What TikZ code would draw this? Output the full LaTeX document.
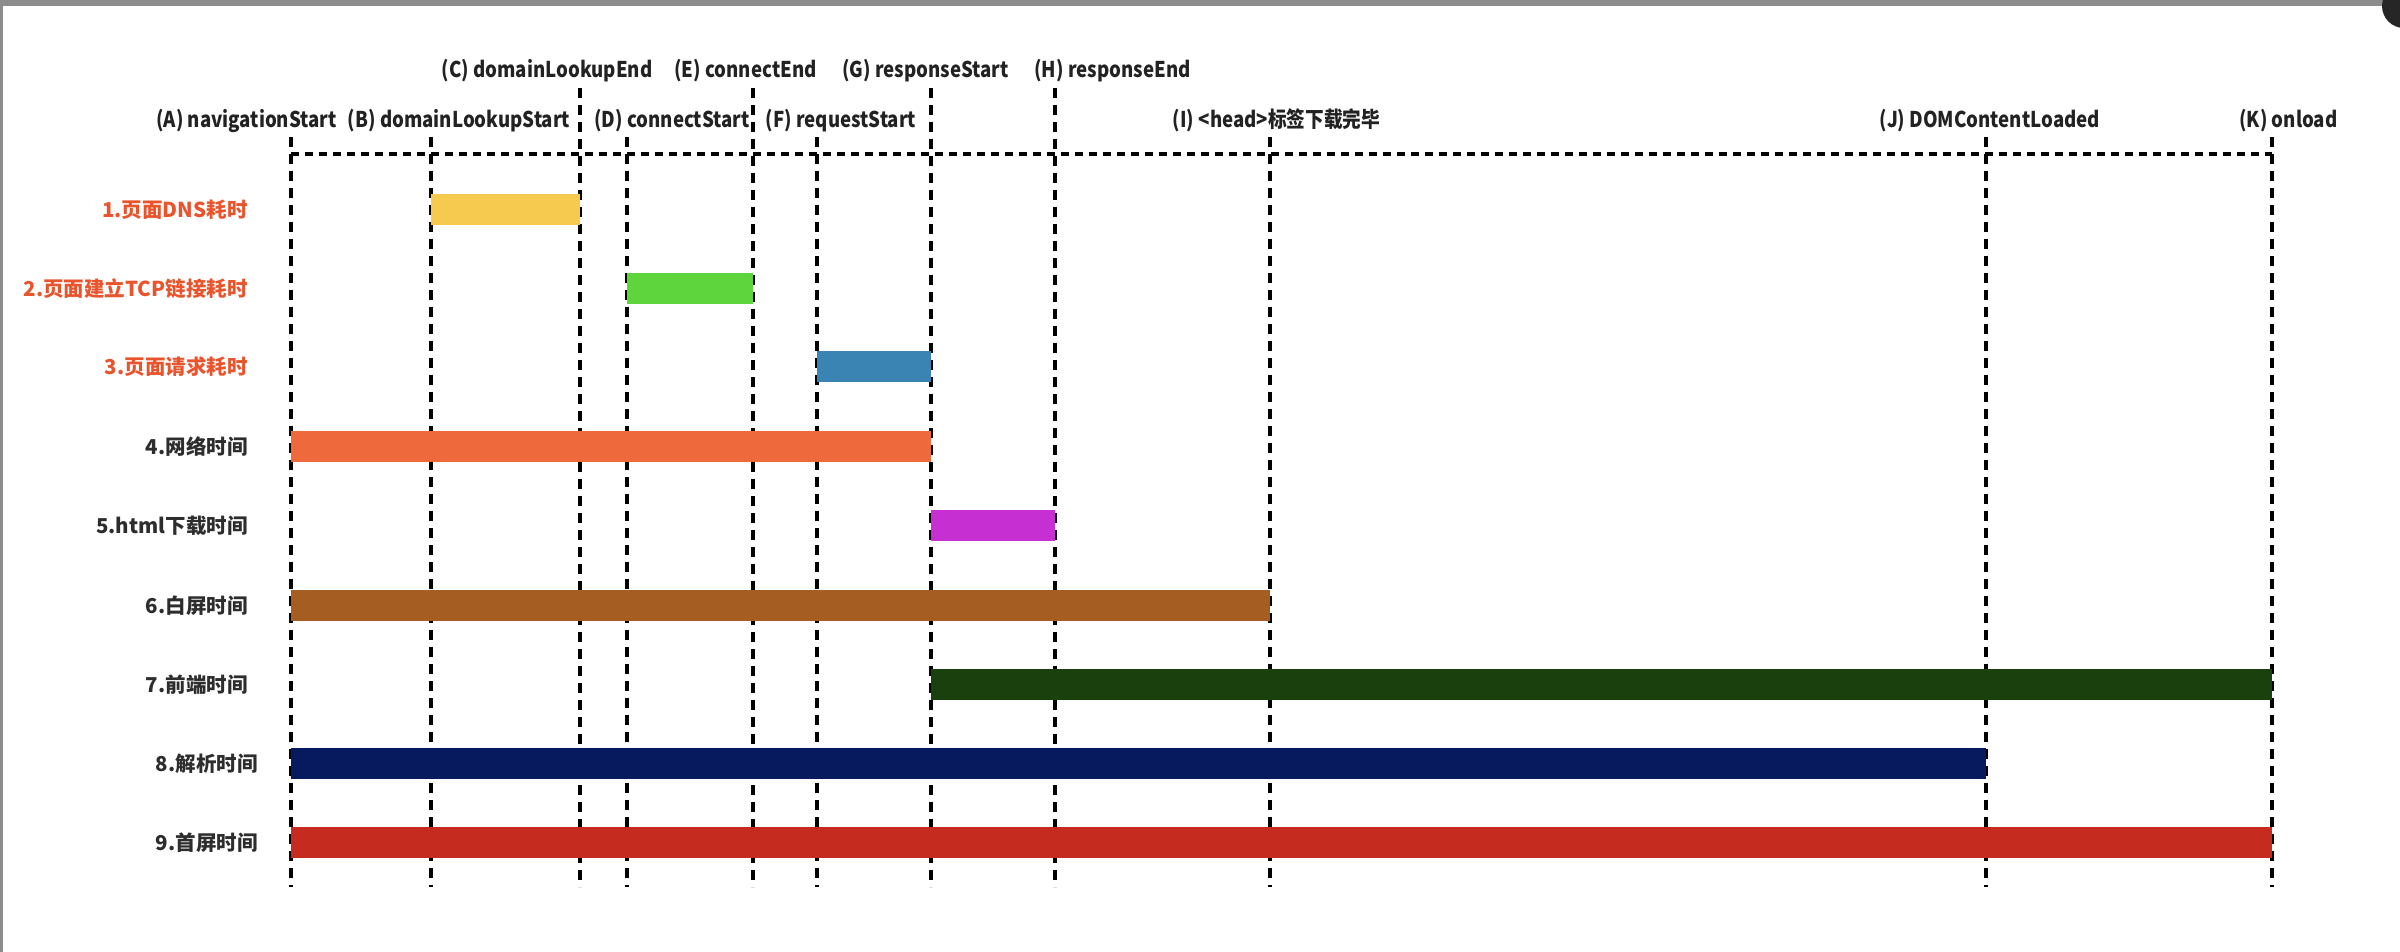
\documentclass[tikz,border=0pt]{standalone}
\usepackage{fontspec}
\setmainfont{Noto Sans CJK SC}
\newfontfamily\topfont[FakeStretch=0.86]{Noto Sans CJK SC}
\usetikzlibrary{calc}
\definecolor{framegray}{RGB}{140,140,140}
\definecolor{toptext}{RGB}{34,34,34}
\definecolor{darktext}{RGB}{45,45,45}
\definecolor{hltext}{RGB}{233,84,45}
\definecolor{cA}{RGB}{246,201,79}
\definecolor{cB}{RGB}{94,213,60}
\definecolor{cC}{RGB}{58,132,180}
\definecolor{cD}{RGB}{238,106,60}
\definecolor{cE}{RGB}{198,47,209}
\definecolor{cF}{RGB}{166,93,34}
\definecolor{cG}{RGB}{26,64,13}
\definecolor{cH}{RGB}{8,26,94}
\definecolor{cI}{RGB}{197,43,30}
\newcommand\tbar[4]{\fill[#1] ($(#2)+(0,{#4-15.5})$) rectangle ($(#3)+(0,{#4+15.5})$);}
\begin{document}
\begin{tikzpicture}[x=0.5pt,y=-0.5pt,
  vline/.style={black,line width=1.75pt,dash pattern=on 5pt off 3.5pt},
  hline/.style={black,line width=2pt,dash pattern=on 4pt off 3pt},
  toplab/.style={inner sep=0pt,anchor=base,text=toptext,font=\topfont\bfseries\fontsize{10.85}{13}\selectfont},
  leftlab/.style={inner sep=0pt,anchor=base east,text=darktext,font=\bfseries\fontsize{10.25}{12}\selectfont},
  hl/.style={text=hltext}]
\useasboundingbox (0,0) rectangle (2400,952);
\fill[white] (0,0) rectangle (2400,952);
\fill[framegray] (0,0) rectangle (2400,6);
\fill[framegray] (0,0) rectangle (3,952);
\fill[black!85] (2404,6) circle (22);
% time points
\foreach \n/\x in {A/291,B/431,C/580,D/627,E/753,F/817,G/931,H/1055,I/1270,J/1986,K/2272}
  {\coordinate (\n) at (\x,0);}
% vertical dashed lines
\foreach \n in {C,E,G,H}
  {\draw[vline] ($(\n)+(0,88)$) -- ($(\n)+(0,887)$);}
\foreach \n in {A,B,D,F,I,J,K}
  {\draw[vline] ($(\n)+(0,137)$) -- ($(\n)+(0,887)$);}
% horizontal dashed line
\draw[hline] ($(A)+(0,154)$) -- ($(K)+(0,154)$);
% top labels
\node[toplab] (lC) at (547,78) {(C) domainLookupEnd};
\node[toplab] (lE) at (745.5,78) {(E) connectEnd};
\node[toplab] (lG) at (925.5,78) {(G) responseStart};
\node[toplab] (lH) at (1112.5,78) {(H) responseEnd};
\node[toplab] (lA) at (246.5,128) {(A) navigationStart};
\node[toplab] (lB) at (459,128) {(B) domainLookupStart};
\node[toplab] (lD) at (672,128) {(D) connectStart};
\node[toplab] (lF) at (841,128) {(F) requestStart};
\node[toplab] (lI) at (1276.5,128) {(I) <head>标签下载完毕};
\node[toplab] (lJ) at (1990,128) {(J) DOMContentLoaded};
\node[toplab] (lK) at (2288.5,128) {(K) onload};
% bars
\tbar{cA}{B}{C}{210}
\tbar{cB}{D}{E}{289}
\tbar{cC}{F}{G}{367}
\tbar{cD}{A}{G}{446}
\tbar{cE}{G}{H}{525}
\tbar{cF}{A}{I}{605}
\tbar{cG}{G}{K}{684}
\tbar{cH}{A}{J}{763}
\tbar{cI}{A}{K}{842}
% row labels
\node[leftlab,hl] (r1) at (248,218) {1.页面DNS耗时};
\node[leftlab,hl] (r2) at (248,297) {2.页面建立TCP链接耗时};
\node[leftlab,hl] (r3) at (248,375) {3.页面请求耗时};
\node[leftlab] (r4) at (248,454) {4.网络时间};
\node[leftlab] (r5) at (248,533) {5.html下载时间};
\node[leftlab] (r6) at (248,613) {6.白屏时间};
\node[leftlab] (r7) at (248,692) {7.前端时间};
\node[leftlab] (r8) at (258,771) {8.解析时间};
\node[leftlab] (r9) at (258,850) {9.首屏时间};
\end{tikzpicture}
\end{document}
